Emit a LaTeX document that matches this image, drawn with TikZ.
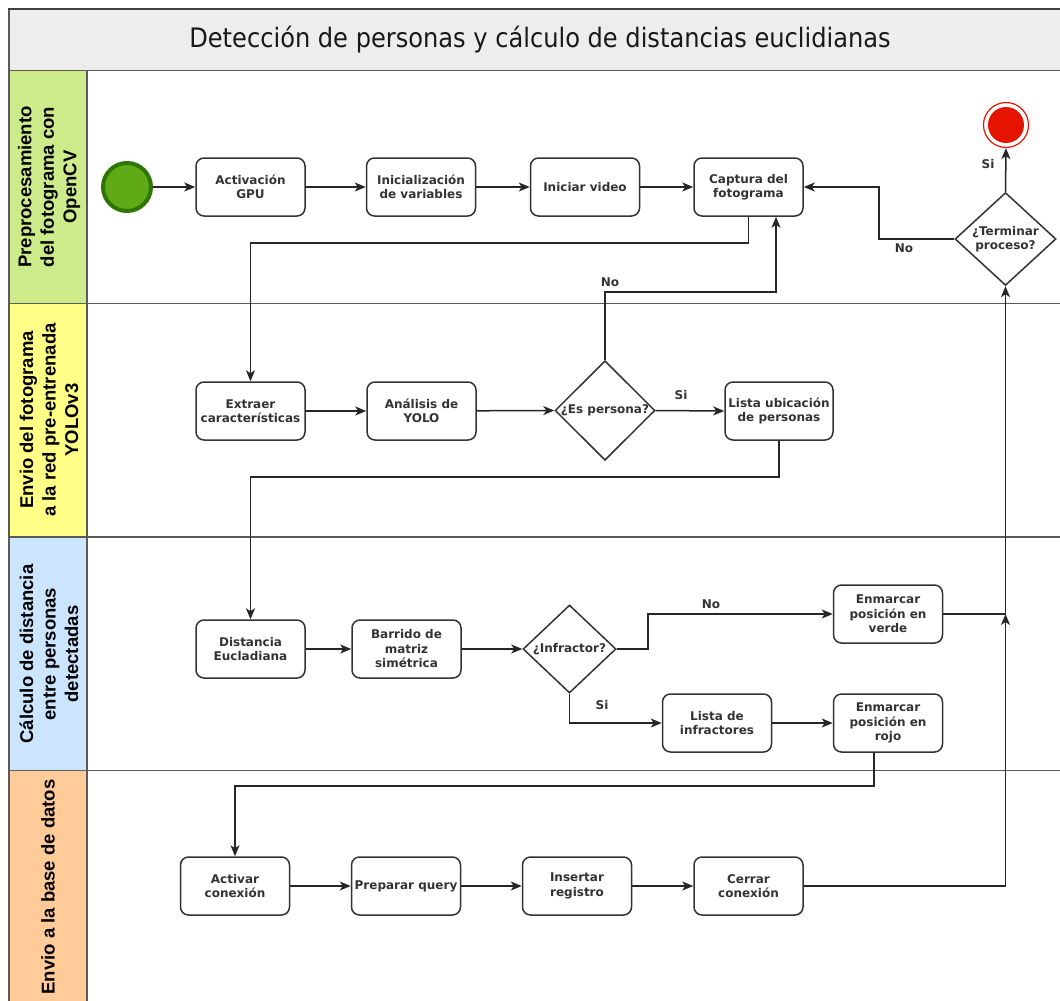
\documentclass[tikz,border=0pt]{standalone}
\usepackage{fontspec}
\setmainfont{DejaVu Sans}
\newfontfamily\titlefont{DejaVu Sans Condensed}
\newfontfamily\lanefont{Liberation Sans}
\usetikzlibrary{shapes.geometric,arrows.meta,calc}

\definecolor{ink}{HTML}{333333}
\definecolor{frame}{HTML}{5A5A5A}
\definecolor{titlebg}{HTML}{EDEDED}
\definecolor{laneA}{HTML}{CDEB8B}
\definecolor{laneB}{HTML}{FFFF88}
\definecolor{laneC}{HTML}{CCE5FF}
\definecolor{laneD}{HTML}{FFCC99}
\definecolor{startfill}{HTML}{60A917}
\definecolor{startline}{HTML}{2D7600}
\definecolor{endred}{HTML}{E51400}

\begin{document}
\begin{tikzpicture}[x=1pt,y=-1pt,
  every node/.style={text=ink},
  task/.style={draw=ink, line width=1.5pt, fill=white, rounded corners=8pt,
    minimum width=109pt, minimum height=58pt, inner sep=1pt, align=center,
    font=\bfseries\fontsize{12}{14.5}\selectfont},
  gate/.style={draw=ink, line width=1.5pt, fill=white, shape=diamond, inner sep=0pt,
    align=center, font=\bfseries\fontsize{12}{14.5}\selectfont},
  flow/.style={draw=black!85, line width=1.5pt, -{Stealth[length=11pt,width=9pt,inset=3pt]}},
  edgelbl/.style={font=\bfseries\fontsize{12}{14.5}\selectfont, inner sep=1pt},
  lanelbl/.style={rotate=90, align=center, text=black,
    font=\lanefont\bfseries\fontsize{18.5}{22.5}\selectfont},
  border/.style={draw=frame, line width=1.5pt}
]
\useasboundingbox (0,0) rectangle (1060,1001);
\begin{scope}
\clip (0,0) rectangle (1060,1001);

% pool header and lane backgrounds
\fill[titlebg] (9,8.5) rectangle (1075,70.5);
\fill[laneA] (9,70.5) rectangle (87,303.5);
\fill[laneB] (9,303.5) rectangle (87,537);
\fill[laneC] (9,537) rectangle (87,770.5);
\fill[laneD] (9,770.5) rectangle (87,1015);

% pool and lane borders
\draw[border] (9,1015) -- (9,8.5);
\draw[draw=black!75, line width=2pt] (8,8.5) -- (1075,8.5);
\draw[border] (9,70.5) -- (1075,70.5);
\draw[border] (9,303.5) -- (1075,303.5);
\draw[border] (9,537) -- (1075,537);
\draw[border] (9,770.5) -- (1075,770.5);
\draw[border] (87,70.5) -- (87,1015);
\end{scope}

\node[font=\titlefont\fontsize{26.8}{30}\selectfont, text=black!90] (title) at (540,40)
  {Detección de personas y cálculo de distancias euclidianas};

% lane titles
\node[lanelbl] (laneAt) at (49,187) {Preprocesamiento\\del fotograma con\\OpenCV};
\node[lanelbl] (laneBt) at (49,420) {Envio del fotograma\\a la red pre-entrenada\\YOLOv3};
\node[lanelbl] (laneCt) at (49,654) {Cálculo de distancia\\entre personas\\detectadas};
\node[lanelbl] (laneDt) at (48,887) {Envio a la base de datos};

% events
\node[circle, draw=startline, line width=4pt, fill=startfill, minimum size=48pt, inner sep=0pt] (start) at (127,187) {};
\node[circle, draw=endred, line width=1.2pt, fill=white, minimum size=45pt, inner sep=0pt] (endev) at (1006,125) {};
\node[circle, fill=endred, minimum size=36pt, inner sep=0pt] (endcore) at (1006,125) {};

% lane 1: preprocessing
\node[task] (gpu) at (250.5,187) {Activación\\GPU};
\node[task] (vars) at (421,187) {Inicialización\\de variables};
\node[task] (video) at (585,187) {Iniciar video};
\node[task] (frame) at (748.5,187) {Captura del\\fotograma};
\node[gate, minimum width=101pt, minimum height=86pt] (term) at (1005.5,239) {¿Terminar\\proceso?};

% lane 2: YOLOv3
\node[task] (feat) at (250.5,411) {Extraer\\características};
\node[task] (yolo) at (421.5,411) {Análisis de\\YOLO};
\node[gate, minimum width=100pt, minimum height=87pt] (isperson) at (605,410.5) {¿Es persona?};
\node[task, minimum width=108pt] (plist) at (779,411) {Lista ubicación\\de personas};

% lane 3: distances
\node[task] (dist) at (250.5,649) {Distancia\\Eucladiana};
\node[task] (sweep) at (406.5,649) {Barrido de\\matriz\\simétrica};
\node[gate, minimum width=93pt, minimum height=88pt] (offender) at (569.5,649) {¿Infractor?};
\node[task] (green) at (888,614) {Enmarcar\\posición en\\verde};
\node[task] (olist) at (717,723) {Lista de\\infractores};
\node[task] (red) at (888,723) {Enmarcar\\posición en\\rojo};

% lane 4: database
\node[task] (connect) at (235,886) {Activar\\conexión};
\node[task] (query) at (406,886) {Preparar query};
\node[task] (insert) at (577,886) {Insertar\\registro};
\node[task] (close) at (748.5,886) {Cerrar\\conexión};

% sequence flows, lane 1
\draw[flow] (start) -- (gpu);
\draw[flow] (gpu) -- (vars);
\draw[flow] (vars) -- (video);
\draw[flow] (video) -- (frame);
\draw[flow] (frame.south) -- ++(0,26) -| (feat.north);
\draw[flow] (term.west) -- ++(-75.5,0) |- (frame.east);
\draw[flow] (term.north) -- (endev.south);
\node[edgelbl] (lblstop) at (988,164) {Si};
\node[edgelbl] (lblloop) at (904,248) {No};

% sequence flows, lane 2
\draw[flow] (feat) -- (yolo);
\draw[flow] (yolo) -- (isperson.west);
\draw[flow] (isperson.east) -- (plist.west);
\node[edgelbl] (lblyes1) at (681,395) {Si};
\draw[flow] (isperson.north) |- (776,292) -- ([xshift=27.5pt]frame.south);
\node[edgelbl] (lblno1) at (610,282) {No};
\draw[flow] (plist.south) -- ++(0,36) -| (dist.north);

% sequence flows, lane 3
\draw[flow] (dist) -- (sweep);
\draw[flow] (sweep) -- (offender.west);
\draw[flow] (offender.east) -- ++(31,0) |- (green.west);
\node[edgelbl] (lblno2) at (711,604) {No};
\draw[flow] (offender.south) |- (olist.west);
\node[edgelbl] (lblyes2) at (602,705) {Si};
\draw[flow] (olist) -- (red);
\draw[flow] ([xshift=-14pt]red.south) -- ++(0,33) -| (connect.north);
\coordinate (join) at (term.south |- green.east);
\draw[flow] (green.east) -- (join) -- (term.south);

% sequence flows, lane 4
\draw[flow] (connect) -- (query);
\draw[flow] (query) -- (insert);
\draw[flow] (insert) -- (close);
\draw[flow] (close.east) -| (join);
\end{tikzpicture}
\end{document}
